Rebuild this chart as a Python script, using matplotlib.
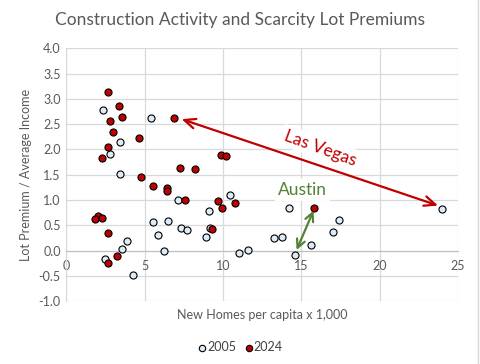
import matplotlib
matplotlib.use("Agg")
import matplotlib.pyplot as plt
from matplotlib.ticker import FormatStrFormatter

plt.rcParams["font.family"] = ["Lato", "DejaVu Sans"]

# 2005 points (new homes per capita x 1,000, lot premium / avg income)
x_2005 = [2.36, 5.4, 3.44, 2.80, 3.44, 7.12, 5.55, 6.5, 5.87, 7.33, 7.7, 3.89, 3.57, 6.25, 2.48,
          4.27, 10.44, 9.12, 9.16, 8.93, 11.03, 11.59, 14.22, 13.25, 13.78, 14.59, 15.63, 17.03,
          17.42, 23.97]
y_2005 = [2.78, 2.62, 2.15, 1.91, 1.51, 1.0, 0.56, 0.58, 0.30, 0.44, 0.41, 0.18, 0.02, 0.0, -0.17,
          -0.49, 1.10, 0.78, 0.44, 0.26, -0.04, 0.01, 0.84, 0.24, 0.26, -0.09, 0.10, 0.37,
          0.60, 0.82]

# 2024 points
x_2024 = [2.63, 3.38, 3.55, 2.80, 3.0, 4.65, 2.68, 2.29, 6.89, 7.27, 4.78, 5.55, 6.44, 6.44, 7.59,
          2.0, 1.83, 2.29, 2.68, 3.25, 2.68, 9.87, 10.17, 8.23, 9.7, 9.95, 10.78, 9.31, 15.82]
y_2024 = [3.14, 2.87, 2.64, 2.56, 2.35, 2.23, 2.05, 1.83, 2.62, 1.63, 1.45, 1.28, 1.23, 1.17, 1.0,
          0.68, 0.62, 0.64, 0.34, -0.10, -0.25, 1.89, 1.87, 1.61, 0.98, 0.84, 0.94, 0.42, 0.84]

# arrow endpoints
vegas_2024 = (7.36, 2.60)
vegas_2005 = (23.73, 0.89)
austin_2005 = (14.70, 0.01)
austin_2024 = (15.78, 0.79)

grid_c = "#D9D9D9"
text_c = "#595959"
red = "#C00000"
green = "#548235"

fig = plt.figure(figsize=(4.81, 3.64), dpi=100)
ax = fig.add_axes([0.138, 0.173, 0.814, 0.694])

ax.scatter(x_2005, y_2005, s=26, facecolor="#DDEBF7", edgecolor="black", linewidth=0.8,
           zorder=3, label="2005")
ax.scatter(x_2024, y_2024, s=26, facecolor=red, edgecolor="black", linewidth=0.8,
           zorder=4, label="2024")

ax.set_xlim(0, 25)
ax.set_ylim(-1, 4)
ax.set_xticks(range(0, 26, 5))
ax.set_yticks([-1, -0.5, 0, 0.5, 1, 1.5, 2, 2.5, 3, 3.5, 4])
ax.yaxis.set_major_formatter(FormatStrFormatter("%.1f"))
ax.grid(True, color=grid_c, linewidth=0.9, zorder=0)
ax.set_axisbelow(True)

for s in ["top", "right"]:
    ax.spines[s].set_visible(False)
ax.spines["left"].set_color(grid_c)
ax.spines["bottom"].set_position(("data", 0))
ax.spines["bottom"].set_color("#BFBFBF")
ax.tick_params(length=0, labelsize=9, labelcolor=text_c, pad=4)
ax.tick_params(axis="x", pad=7)

ax.set_xlabel("New Homes per capita x 1,000", fontsize=9, color=text_c, labelpad=0)
ax.xaxis.set_label_coords(0.5, -0.03)
ax.set_ylabel("Lot Premium / Average Income", fontsize=9, color=text_c, labelpad=5)

fig.text(0.5, 0.945, "Construction Activity and Scarcity Lot Premiums", ha="center",
         va="center", fontsize=12.5, color=text_c)

ax.annotate("", xy=vegas_2024, xytext=vegas_2005,
            arrowprops=dict(arrowstyle="<->,head_length=0.8,head_width=0.35", color=red,
                            lw=1.6, shrinkA=0, shrinkB=0), zorder=5)
ax.text(16.2, 2.03, "Las Vegas", rotation=-20, ha="center", va="center", fontsize=12.5,
        color=red, bbox=dict(facecolor="white", edgecolor="none", pad=2), zorder=2)

ax.annotate("", xy=austin_2024, xytext=austin_2005,
            arrowprops=dict(arrowstyle="<->,head_length=0.6,head_width=0.3", color=green,
                            lw=1.6, shrinkA=0, shrinkB=0), zorder=5)
ax.text(15.08, 1.20, "Austin", ha="center", va="center", fontsize=12.5, color=green,
        bbox=dict(facecolor="white", edgecolor="none", pad=2), zorder=2)

leg = fig.legend(loc="center", bbox_to_anchor=(0.5, 0.046), ncol=2, frameon=False,
                 fontsize=9, handletextpad=0.1, columnspacing=0.7, markerscale=0.9,
                 handlelength=0.6)
for t in leg.get_texts():
    t.set_color("#404040")

fig.add_artist(plt.Line2D([0.994, 0.994], [0, 1], color=grid_c, lw=1,
                          transform=fig.transFigure))

fig.savefig("out.png", dpi=100)
